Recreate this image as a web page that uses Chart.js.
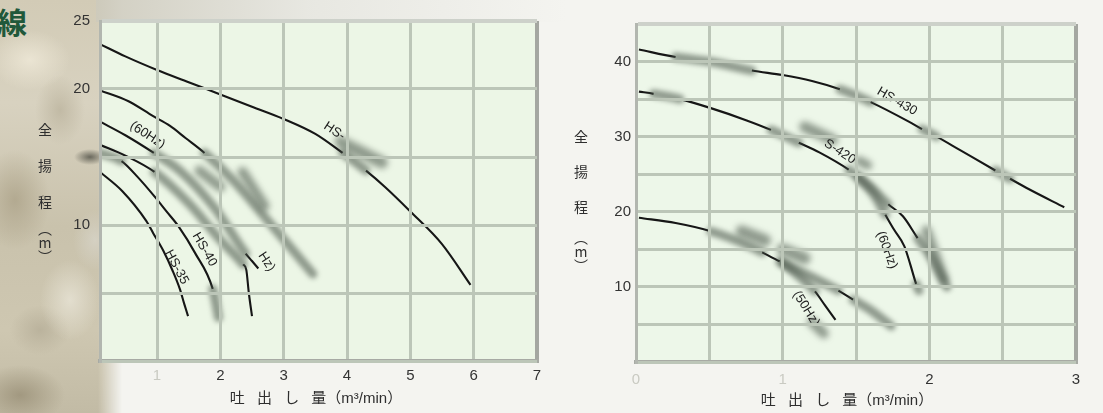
<!DOCTYPE html>
<html>
<head>
<meta charset="utf-8">
<script src="https://cdn.jsdelivr.net/npm/chart.js@4.4.1/dist/chart.umd.min.js"></script>
<style>
html,body{margin:0;padding:0;}
body{width:1103px;height:413px;overflow:hidden;position:relative;background:#f4f4f0;
  font-family:"Liberation Sans","Noto Sans CJK JP",sans-serif;}
#stone{position:absolute;left:0;top:0;width:122px;height:413px;
  background:
    radial-gradient(ellipse 16px 8px at 90px 157px, rgba(80,80,70,.8) 0%, rgba(80,80,70,0) 100%),
    radial-gradient(ellipse 40px 30px at 30px 60px, rgba(238,232,215,.85) 0%, rgba(238,232,215,0) 100%),
    radial-gradient(ellipse 35px 50px at 15px 200px, rgba(170,160,134,.75) 0%, rgba(170,160,134,0) 100%),
    radial-gradient(ellipse 30px 40px at 70px 300px, rgba(232,228,214,.8) 0%, rgba(232,228,214,0) 100%),
    radial-gradient(ellipse 45px 30px at 20px 395px, rgba(150,140,115,.75) 0%, rgba(150,140,115,0) 100%),
    radial-gradient(ellipse 25px 35px at 60px 110px, rgba(186,178,156,.75) 0%, rgba(186,178,156,0) 100%),
    radial-gradient(ellipse 22px 30px at 95px 240px, rgba(215,212,200,.8) 0%, rgba(215,212,200,0) 100%),
    radial-gradient(ellipse 30px 25px at 40px 330px, rgba(178,170,148,.7) 0%, rgba(178,170,148,0) 100%),
    linear-gradient(180deg,#d2cbb6 0%,#d8d2c0 25%,#c9c2ac 55%,#cec7b1 80%,#c2bba5 100%);
  -webkit-mask-image:linear-gradient(90deg,#000 0,#000 98px,rgba(0,0,0,0) 122px);
  mask-image:linear-gradient(90deg,#000 0,#000 98px,rgba(0,0,0,0) 122px);}
#topband{position:absolute;left:96px;top:0;width:470px;height:22px;
  background:linear-gradient(90deg,rgba(205,202,188,.9),rgba(226,226,219,.7) 45%,rgba(240,240,235,0) 100%);}
#heading{position:absolute;left:-3px;top:4px;font-size:30px;font-weight:bold;color:#20583a;
  font-family:"Noto Sans CJK JP",sans-serif;line-height:34px;}
.cv{position:absolute;top:0;}
.yt{position:absolute;writing-mode:vertical-rl;font-size:14px;line-height:16px;color:#2e2e2e;
  font-family:"Noto Sans CJK JP",sans-serif;}
.xt{position:absolute;font-size:15px;line-height:18px;color:#2e2e2e;white-space:nowrap;
  word-spacing:8px;transform:translateX(-50%);}
</style>
</head>
<body>
<div id="stone"></div>
<div id="topband"></div>
<div id="heading">線</div>

<canvas id="leftChart" class="cv" style="left:0" width="560" height="413"></canvas>
<canvas id="rightChart" class="cv" style="left:560px" width="543" height="413"></canvas>

<div class="yt" style="left:37px;top:123px;letter-spacing:22px;">全揚程</div>
<div class="yt" style="left:37px;top:222px;letter-spacing:0;text-orientation:upright;">（m）</div>
<div class="yt" style="left:573px;top:130px;letter-spacing:21px;">全揚程</div>
<div class="yt" style="left:573px;top:231px;letter-spacing:0;text-orientation:upright;">（m）</div>
<div class="xt" style="left:316px;top:389px;">吐 出 し 量（m³/min）</div>
<div class="xt" style="left:847px;top:391px;">吐 出 し 量（m³/min）</div>

<script>
// ================= DATA =================
// ---- left chart : axes ----
const leftXTicks = [1, 2, 3, 4, 5, 6, 7];
const leftXTickLabels = ['1', '2', '3', '4', '5', '6', '7'];
const leftXFaint = [1];
const leftYTicks = [0, 5, 10, 15, 20, 25];
const leftYTickLabels = ['', '', '10', '', '20', '25'];

// ---- left chart : curves (discharge m3/min , head m) ----
const curveA_x = [0.1, 0.5, 1.0, 1.5, 2.0, 2.5, 3.0, 3.5, 3.93, 4.3, 4.6, 5.0, 5.5, 5.95];
const curveA_y = [23.3, 22.4, 21.4, 20.5, 19.6, 18.7, 17.8, 16.7, 15.3, 14.0, 12.8, 11.0, 8.6, 5.6];
const curveB_x = [0.1, 0.55, 0.94, 1.2, 1.45, 1.75, 2.2, 2.7, 3.1, 3.46];
const curveB_y = [19.9, 19.1, 18.0, 17.3, 16.4, 15.3, 13.3, 10.6, 8.4, 6.4];
const curveC_x = [0.1, 0.5, 0.95, 1.36, 1.9, 2.4, 2.5, 2.6];
const curveC_y = [17.6, 16.6, 15.3, 14.0, 11.3, 7.9, 7.35, 6.8];
const curveD_x = [0.1, 0.5, 0.96, 1.5, 2.0, 2.36, 2.41, 2.45, 2.5];
const curveD_y = [15.9, 15.1, 13.9, 11.6, 8.9, 7.1, 6.7, 5.0, 3.3];
const curveF_x = [0.1, 0.44, 0.7, 0.96, 1.15, 1.34, 1.6, 1.88, 1.93, 1.97];
const curveF_y = [15.3, 14.7, 13.5, 12.1, 11.0, 9.9, 7.95, 5.3, 4.2, 3.2];
const curveE_x = [0.1, 0.45, 0.83, 0.94, 1.1, 1.25, 1.36, 1.43, 1.49];
const curveE_y = [13.9, 12.5, 10.3, 9.4, 8.1, 6.6, 5.3, 4.2, 3.3];
// smudged (blurred) stretches of the printed curves, by discharge range
const curveA_smudged = [[3.93, 4.3]];
const curveB_smudged = [[1.75, 3.46]];
const curveC_smudged = [[0.95, 2.4]];
const curveD_smudged = [[0.96, 2.36]];
const curveF_smudged = [[0.1, 0.44], [1.88, 1.97]];
const curveE_smudged = [];
// smudge marks on the scan
const leftBlob1_x = [3.9, 4.25, 4.55], leftBlob1_y = [16.1, 15.3, 14.6];
const leftBlob2_x = [1.67, 2.0],       leftBlob2_y = [14.0, 12.8];
const leftBlob3_x = [2.35, 2.7],       leftBlob3_y = [13.9, 11.4];

// ---- right chart : axes ----
const rightXTicks = [0, 0.5, 1, 1.5, 2, 2.5, 3];
const rightXTickLabels = ['0', '', '1', '', '2', '', '3'];
const rightXFaint = [0, 1];
const rightYTicks = [0, 5, 10, 15, 20, 25, 30, 35, 40, 45];
const rightYTickLabels = ['', '', '10', '', '20', '', '30', '', '40', ''];

// ---- right chart : curves ----
const curveT_x = [0.02, 0.27, 0.5, 0.79, 1.0, 1.2, 1.39, 1.6, 1.86, 1.95, 2.05, 2.21, 2.45, 2.55, 2.68, 2.92];
const curveT_y = [41.6, 40.6, 40.0, 38.8, 38.2, 37.4, 36.3, 34.6, 32.0, 31.0, 30.0, 28.2, 25.5, 24.4, 23.0, 20.6];
const curveM_x = [0.02, 0.12, 0.3, 0.51, 0.75, 0.92, 1.11, 1.25, 1.45, 1.6, 1.72, 1.82, 1.92, 2.0, 2.12];
const curveM_y = [36.0, 35.7, 35.0, 33.8, 32.2, 30.9, 29.2, 27.9, 25.6, 23.3, 21.0, 19.4, 16.5, 14.3, 10.0];
const curveN_x = [1.52, 1.62, 1.70, 1.76, 1.83, 1.87, 1.91, 1.93];
const curveN_y = [24.5, 22.3, 19.6, 17.6, 15.4, 13.0, 10.4, 9.5];
const curveL_x = [0.02, 0.27, 0.51, 0.79, 0.86, 0.98, 1.19, 1.38, 1.48, 1.6, 1.74];
const curveL_y = [19.2, 18.5, 17.4, 15.3, 14.6, 13.4, 11.4, 9.5, 8.3, 6.9, 4.8];
const curveP_x = [1.0, 1.1, 1.22, 1.29, 1.36];
const curveP_y = [13.2, 11.6, 9.4, 7.5, 5.6];
const curveT_smudged = [[0.27, 0.79], [1.39, 1.6], [1.95, 2.05], [2.45, 2.55]];
const curveM_smudged = [[0.12, 0.3], [0.92, 1.11], [1.45, 1.72], [1.92, 2.12]];
const curveN_smudged = [[1.52, 1.70], [1.91, 1.93]];
const curveL_smudged = [[0.51, 0.86], [0.98, 1.38], [1.48, 1.74]];
const curveP_smudged = [[1.0, 1.22]];
const rightBlob1_x = [1.15, 1.34], rightBlob1_y = [31.3, 29.6];
const rightBlob2_x = [1.52, 1.58], rightBlob2_y = [26.8, 26.2];
const rightBlob3_x = [0.72, 0.88], rightBlob3_y = [17.4, 16.2];
const rightBlob4_x = [1.0, 1.15],  rightBlob4_y = [15.0, 13.8];
const rightBlob5_x = [1.2, 1.28],  rightBlob5_y = [5.3, 3.8];
const rightBlob6_x = [1.98, 2.1],  rightBlob6_y = [17.5, 11.0];

// curve labels (text as printed)
const leftLabels = [
  {text: 'HS-',    x: 3.8,  y: 16.9, angle: 33},
  {text: '(60Hz)', x: 0.85, y: 16.6, angle: 33},
  {text: 'HS-40',  x: 1.75, y: 8.2,  angle: 60},
  {text: 'HS-35',  x: 1.31, y: 6.9,  angle: 62},
  {text: 'Hz)',    x: 2.73, y: 7.3,  angle: 57}
];
const rightLabels = [
  {text: 'HS-430', x: 1.78, y: 34.7, angle: 30},
  {text: 'S-420',  x: 1.39, y: 28.0, angle: 33},
  {text: '(60Hz)', x: 1.71, y: 14.9, angle: 70},
  {text: '(50Hz)', x: 1.16, y: 7.1,  angle: 58}
];

// ================= RENDERING =================
const INK = '#161616';
const SMUDGE = 'rgba(76,88,76,0.58)';
const CLEAR = 'rgba(0,0,0,0)';
const GRID = '#bcc6b8';

const zip = (xs, ys) => xs.map((x, i) => ({x: x, y: ys[i]}));
const lineBase = {showLine: true, pointRadius: 0, pointHoverRadius: 0, fill: false,
  cubicInterpolationMode: 'monotone'};

function curve(xs, ys, smudged) {
  const pts = zip(xs, ys);
  const inR = c => { const m = (c.p0.parsed.x + c.p1.parsed.x) / 2;
    return smudged.some(r => m >= r[0] - 1e-9 && m <= r[1] + 1e-9); };
  const out = [];
  if (smudged.length) {
    out.push(Object.assign({}, lineBase, {data: pts, smudge: true, blur: 2.5, borderWidth: 9,
      borderColor: SMUDGE, borderCapStyle: 'round',
      segment: {borderColor: c => inR(c) ? SMUDGE : CLEAR}}));
  }
  out.push(Object.assign({}, lineBase, {data: pts, borderWidth: 2.1, borderColor: INK,
    segment: {borderColor: c => inR(c) ? CLEAR : INK}}));
  return out;
}
function blob(xs, ys, w) {
  return Object.assign({}, lineBase, {data: zip(xs, ys), smudge: true, blur: 3, borderWidth: w,
    borderColor: SMUDGE, borderCapStyle: 'round'});
}

const paperPlugin = {
  id: 'paper',
  beforeDraw(chart, args, opts) {
    const {ctx, chartArea: a} = chart;
    ctx.save(); ctx.fillStyle = opts.fill;
    ctx.fillRect(a.left, a.top, a.right - a.left, a.bottom - a.top); ctx.restore();
  },
  beforeDatasetDraw(chart, args) {
    const ds = chart.data.datasets[args.index];
    if (ds.smudge) { chart.ctx.save(); chart.ctx.filter = 'blur(' + ds.blur + 'px)'; }
  },
  afterDatasetDraw(chart, args) {
    const ds = chart.data.datasets[args.index];
    if (ds.smudge) chart.ctx.restore();
  },
  afterDatasetsDraw(chart, args, opts) {
    const {ctx, scales: {x, y}} = chart;
    (opts.labels || []).forEach(l => {
      ctx.save();
      ctx.translate(x.getPixelForValue(l.x), y.getPixelForValue(l.y));
      ctx.rotate(l.angle * Math.PI / 180);
      ctx.font = '13px "Liberation Sans", Arial, sans-serif';
      ctx.fillStyle = '#1c1c1c'; ctx.textAlign = 'center'; ctx.textBaseline = 'middle';
      ctx.fillText(l.text, 0, 0);
      ctx.restore();
    });
  }
};

function build(id, c) {
  const tickFont = {family: '"Liberation Sans", Arial, sans-serif', size: 15};
  return new Chart(document.getElementById(id), {
    type: 'scatter',
    data: {datasets: c.datasets},
    options: {
      responsive: false, animation: false, events: [],
      layout: {padding: c.padding},
      plugins: {legend: {display: false}, tooltip: {enabled: false},
        paper: {fill: c.fill, labels: c.labels}},
      scales: {
        x: {
          type: 'linear', min: c.xMin, max: c.xMax,
          afterFit: s => { s.height = c.xAxisHeight; },
          afterBuildTicks: s => { s.ticks = c.xTicks.map(v => ({value: v})); },
          grid: {z: 1, drawTicks: false,
            color: ctx => (ctx.tick && ctx.tick.value === c.xMax) ? '#a4a7a1' : GRID,
            lineWidth: ctx => (ctx.tick && ctx.tick.value === c.xMax) ? 4 : 3},
          border: {z: 1, color: '#a7aaa4', width: 4},
          ticks: {autoSkip: false, maxRotation: 0, padding: c.xPad, font: tickFont,
            color: ctx => c.xFaint.includes(ctx.tick.value) ? '#c9cac2' : '#333',
            callback: v => c.xLabels[c.xTicks.indexOf(v)]}
        },
        y: {
          type: 'linear', min: c.yMin, max: c.yMax,
          afterFit: s => { s.width = c.yAxisWidth; },
          afterBuildTicks: s => { s.ticks = c.yTicks.map(v => ({value: v})); },
          grid: {z: 1, drawTicks: false,
            color: ctx => (ctx.tick && ctx.tick.value === c.yMax) ? '#cdd1ca' : GRID,
            lineWidth: ctx => (ctx.tick && ctx.tick.value === c.yMax) ? 4 : 3},
          border: {z: 1, color: '#b2b6af', width: 3},
          ticks: {autoSkip: false, padding: c.yPad, font: tickFont, color: '#333',
            callback: v => c.yLabels[c.yTicks.indexOf(v)]}
        }
      }
    },
    plugins: [paperPlugin]
  });
}

build('leftChart', {
  datasets: [].concat(
    curve(curveA_x, curveA_y, curveA_smudged),
    curve(curveB_x, curveB_y, curveB_smudged),
    curve(curveC_x, curveC_y, curveC_smudged),
    curve(curveD_x, curveD_y, curveD_smudged),
    curve(curveF_x, curveF_y, curveF_smudged),
    curve(curveE_x, curveE_y, curveE_smudged),
    [blob(leftBlob1_x, leftBlob1_y, 12), blob(leftBlob2_x, leftBlob2_y, 10), blob(leftBlob3_x, leftBlob3_y, 10)]
  ),
  labels: leftLabels, fill: '#ecf6e6',
  padding: {top: 21, right: 23, left: 0, bottom: 0},
  xMin: 0.1, xMax: 7, yMin: 0, yMax: 25,
  xTicks: leftXTicks, xLabels: leftXTickLabels, xFaint: leftXFaint,
  yTicks: leftYTicks, yLabels: leftYTickLabels,
  xAxisHeight: 52, yAxisWidth: 100, xPad: 6, yPad: 10
});

build('rightChart', {
  datasets: [].concat(
    curve(curveT_x, curveT_y, curveT_smudged),
    curve(curveM_x, curveM_y, curveM_smudged),
    curve(curveN_x, curveN_y, curveN_smudged),
    curve(curveL_x, curveL_y, curveL_smudged),
    curve(curveP_x, curveP_y, curveP_smudged),
    [blob(rightBlob1_x, rightBlob1_y, 11), blob(rightBlob2_x, rightBlob2_y, 9),
     blob(rightBlob3_x, rightBlob3_y, 12), blob(rightBlob4_x, rightBlob4_y, 12),
     blob(rightBlob5_x, rightBlob5_y, 10), blob(rightBlob6_x, rightBlob6_y, 10)]
  ),
  labels: rightLabels, fill: '#edf7e9',
  padding: {top: 24, right: 27, left: 0, bottom: 0},
  xMin: 0, xMax: 3, yMin: 0, yMax: 45,
  xTicks: rightXTicks, xLabels: rightXTickLabels, xFaint: rightXFaint,
  yTicks: rightYTicks, yLabels: rightYTickLabels,
  xAxisHeight: 51, yAxisWidth: 76, xPad: 9, yPad: 5
});
</script>
</body>
</html>
